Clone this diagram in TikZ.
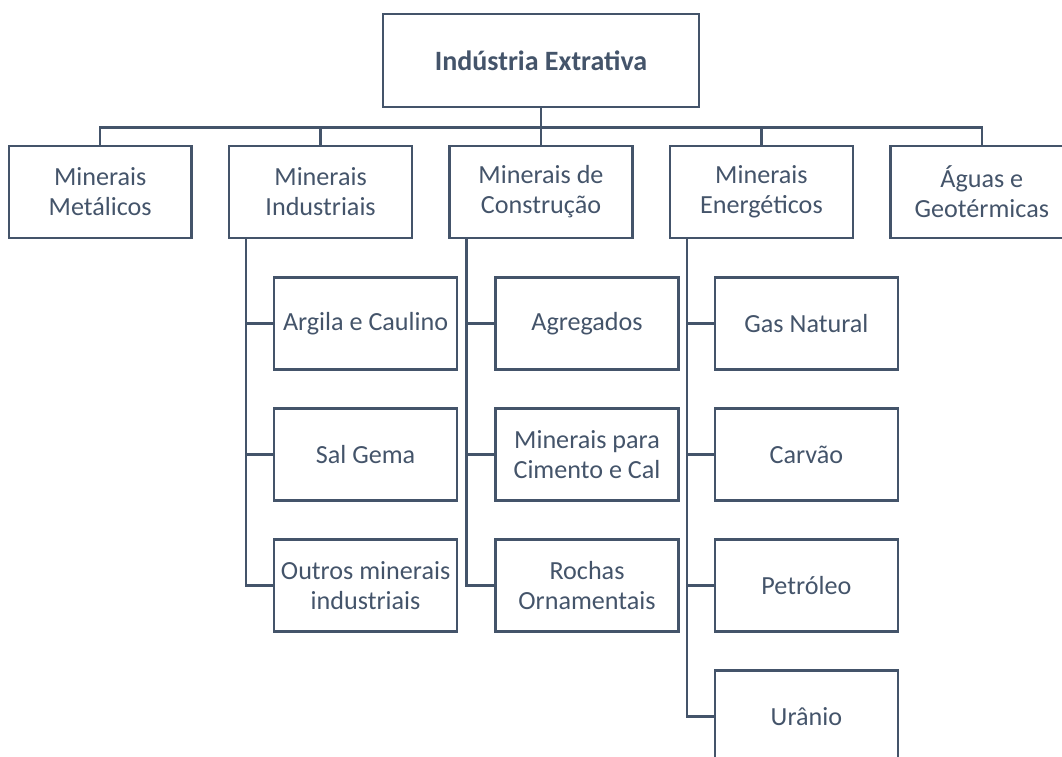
\documentclass[tikz,border=0pt]{standalone}
\usepackage{fontspec}
\setmainfont{Carlito}
\usetikzlibrary{positioning}
\definecolor{slate}{HTML}{44546A}

\begin{document}
\begin{tikzpicture}[x=0.75pt, y=-0.75pt, node distance=26.5pt]
	\tikzset{BoxStyle/.style = {
			shape=rectangle,
			draw=slate,
			line width=1.8pt,
			text=slate,
			align=center,
			minimum width=137pt,
			minimum height=69pt,
			font=\fontsize{19.6}{22.5}\selectfont
	}}
	\tikzset{LinkStyle/.style = {
			draw=slate,
			line width=1.8pt
	}}
	\useasboundingbox (0,0) rectangle (1062,756);
	
	\node[BoxStyle, minimum width=237pt, minimum height=70pt, font=\bfseries\fontsize{21}{24}\selectfont] (top) at (541,60.5) {Indústria Extrativa};
	\node[BoxStyle] (con) at (541,192) {Minerais de\\Construção};
	\node[BoxStyle, left=of con] (ind) {Minerais\\Industriais};
	\node[BoxStyle, left=of ind] (met) {Minerais\\Metálicos};
	\node[BoxStyle, right=of con] (ene) {Minerais\\Energéticos};
	\node[BoxStyle, right=of ene] (agu) {Águas e\\Geotérmicas};
	
	\node[BoxStyle, below right=27.75pt and 33.75pt of ind.south west, anchor=north west] (arg) {Argila e Caulino};
	\node[BoxStyle, below=27.5pt of arg] (sal) {Sal Gema};
	\node[BoxStyle, below=27.5pt of sal] (out) {Outros minerais\\industriais};
	
	\node[BoxStyle, below right=27.75pt and 34.5pt of con.south west, anchor=north west] (agr) {Agregados};
	\node[BoxStyle, below=27.5pt of agr] (cim) {Minerais para\\Cimento e Cal};
	\node[BoxStyle, below=27.5pt of cim] (roc) {Rochas\\Ornamentais};
	
	\node[BoxStyle, below right=27.75pt and 33.75pt of ene.south west, anchor=north west] (gas) {Gas Natural};
	\node[BoxStyle, below=27.5pt of gas] (car) {Carvão};
	\node[BoxStyle, below=27.5pt of car] (pet) {Petróleo};
	\node[BoxStyle, below=27.5pt of pet] (ura) {Urânio};
	
	\draw[LinkStyle] (top.south) -- ++(0,-14.25pt) -| (met.north);
	\draw[LinkStyle] (top.south) -- ++(0,-14.25pt) -| (ind.north);
	\draw[LinkStyle] (top.south) -- (con.north);
	\draw[LinkStyle] (top.south) -- ++(0,-14.25pt) -| (ene.north);
	\draw[LinkStyle] (top.south) -- ++(0,-14.25pt) -| (agu.north);
	
	\draw[LinkStyle] (ind.south west) ++(13.5pt,0) |- (arg.west);
	\draw[LinkStyle] (ind.south west) ++(13.5pt,0) |- (sal.west);
	\draw[LinkStyle] (ind.south west) ++(13.5pt,0) |- (out.west);
	\draw[LinkStyle] (con.south west) ++(13.5pt,0) |- (agr.west);
	\draw[LinkStyle] (con.south west) ++(13.5pt,0) |- (cim.west);
	\draw[LinkStyle] (con.south west) ++(13.5pt,0) |- (roc.west);
	\draw[LinkStyle] (ene.south west) ++(13.5pt,0) |- (gas.west);
	\draw[LinkStyle] (ene.south west) ++(13.5pt,0) |- (car.west);
	\draw[LinkStyle] (ene.south west) ++(13.5pt,0) |- (pet.west);
	\draw[LinkStyle] (ene.south west) ++(13.5pt,0) |- (ura.west);
\end{tikzpicture}
\end{document}
